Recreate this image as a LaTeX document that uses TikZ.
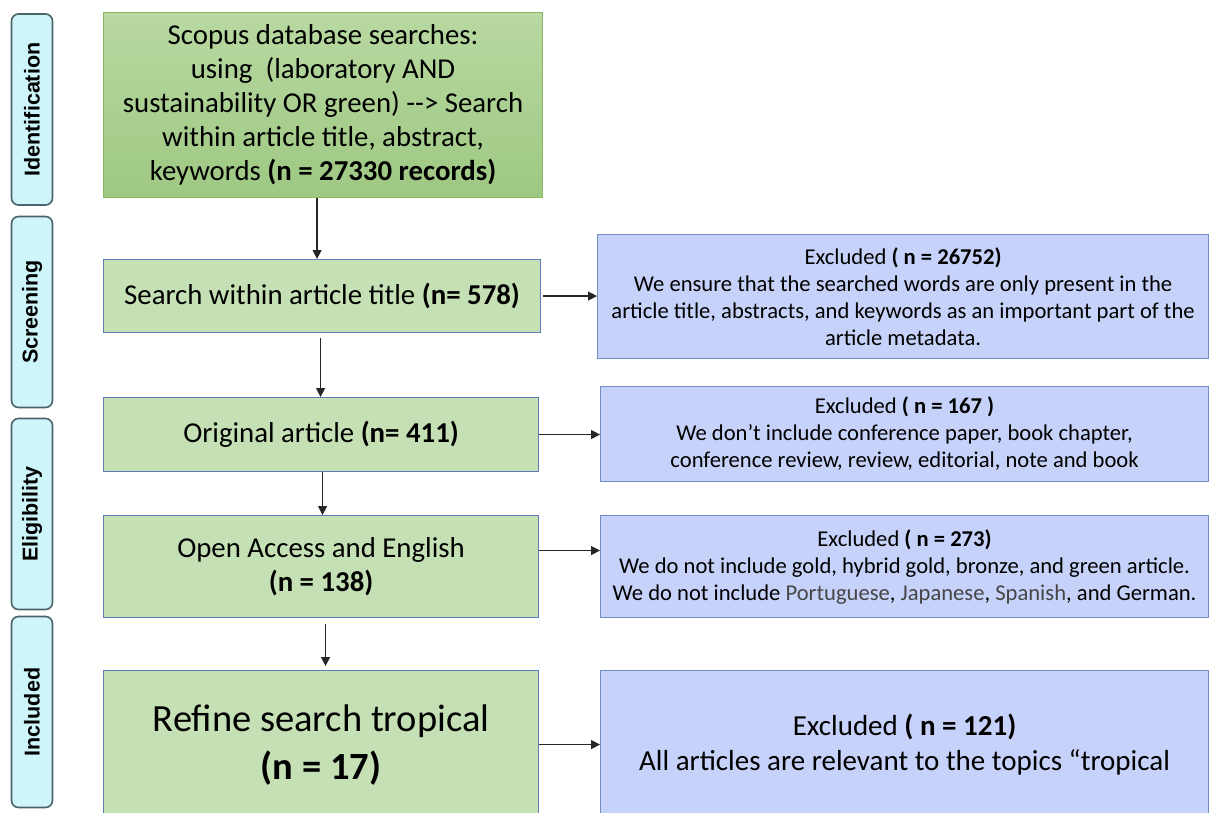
\documentclass[tikz,border=0pt]{standalone}
\usepackage{fontspec}
\setmainfont{Carlito}
\newfontfamily\sidefont{Liberation Sans}
\usetikzlibrary{arrows.meta,calc}
\definecolor{gtop}{RGB}{184,217,162}
\definecolor{gbot}{RGB}{158,200,130}
\definecolor{gborder}{RGB}{135,185,100}
\definecolor{gfill}{RGB}{197,224,180}
\definecolor{bborder}{RGB}{95,125,180}
\definecolor{rfill}{RGB}{198,210,249}
\definecolor{rborder}{RGB}{115,140,192}
\definecolor{sfill}{RGB}{206,245,250}
\definecolor{sborder}{RGB}{75,100,108}
\definecolor{grtext}{RGB}{70,70,70}
\tikzset{
  sidebox/.style={draw=sborder, line width=1.6pt, fill=sfill, rounded corners=7pt,
    rotate=90, minimum width=191pt, minimum height=41pt, inner sep=0pt,
    font=\sidefont\bfseries\fontsize{21.5}{24}\selectfont},
  gbox/.style={draw=bborder, line width=1.1pt, fill=gfill, anchor=north west,
    inner sep=0pt, align=center, font=\fontsize{28.8}{34}\selectfont},
  rbox/.style={draw=rborder, line width=1.1pt, fill=rfill, anchor=north west,
    inner sep=0pt, align=center, font=\fontsize{22.6}{27}\selectfont},
  arr/.style={draw=black!85, line width=1.3pt, -{Triangle[length=9pt,width=9pt]}}
}
\begin{document}
\begin{tikzpicture}[x=1pt,y=-1pt]
\path[use as bounding box, clip] (0,0) rectangle (1209,813);
\fill[white] (0,0) rectangle (1209,813);
% side labels
\node[sidebox] (s1) at (32,109.5) {Identification};
\node[sidebox] (s2) at (32,312) {Screening};
\node[sidebox] (s3) at (32,514) {Eligibility};
\node[sidebox] (s4) at (32,712) {Included};
% main boxes
\node[gbox, draw=gborder, top color=gtop, bottom color=gbot, minimum width=439pt, minimum height=185pt] (b1) at (103,12)
 {Scopus database searches:\\ using \ (laboratory AND\\ sustainability OR green) -{}-{}> Search\\ within article title, abstract,\\ keywords \textbf{(n = 27330 records)}};
\node[gbox, minimum width=437pt, minimum height=73pt] (b2) at (103,259)
 {Search within article title \textbf{(n= 578)}};
\node[gbox, minimum width=435pt, minimum height=74pt] (b3) at (103,397)
 {Original article \textbf{(n= 411)}};
\node[gbox, minimum width=435pt, minimum height=102pt] (b4) at (103,515)
 {Open Access and English\\ \textbf{(n = 138)}};
\node[gbox, minimum width=435pt, minimum height=148pt, font=\fontsize{38.5}{48}\selectfont] (b5) at (103,670)
 {Refine search tropical\\ \textbf{(n = 17)}};
% right boxes
\node[rbox, minimum width=611pt, minimum height=124pt] (r1) at (597,234)
 {Excluded \textbf{( n = 26752)}\\ We ensure that the searched words are only present in the\\ article title, abstracts, and keywords as an important part of the\\ article metadata.};
\node[rbox, minimum width=608pt, minimum height=95pt] (r2) at (600,386)
 {Excluded \textbf{( n = 167 )}\\ We don’t include conference paper, book chapter,\\ conference review, review, editorial, note and book};
\node[rbox, minimum width=608pt, minimum height=102pt] (r3) at (600,515)
 {Excluded \textbf{( n = 273)}\\ We do not include gold, hybrid gold, bronze, and green article.\\ We do not include \textcolor{grtext}{Portuguese}, \textcolor{grtext}{Japanese}, \textcolor{grtext}{Spanish}, and German.};
\node[rbox, minimum width=608pt, minimum height=148pt, font=\fontsize{29}{35}\selectfont] (r4) at (600,670)
 {Excluded \textbf{( n = 121)}\\ All articles are relevant to the topics “tropical};
% vertical arrows
\draw[arr] ([xshift=-6pt]b1.south) -- ([xshift=-6pt]b1.south |- b2.north);
\draw[arr] ([xshift=-1.5pt,yshift=-5pt]b2.south) -- ([xshift=-1.5pt]b2.south |- b3.north);
\draw[arr] ([xshift=1.5pt]b3.south) -- ([xshift=1.5pt]b3.south |- b4.north);
\draw[arr, shorten >=4pt] ([xshift=4.5pt,yshift=-6pt]b4.south) -- ([xshift=4.5pt]b4.south |- b5.north);
% horizontal arrows
\draw[arr] ([xshift=2pt]b2.east) -- (b2.east -| r1.west);
\draw[arr] (b3.east) -- (b3.east -| r2.west);
\draw[arr] ([yshift=16pt]b4.east) -- ([yshift=16pt]b4.east -| r3.west);
\draw[arr] (b5.east) -- (b5.east -| r4.west);
\end{tikzpicture}
\end{document}
